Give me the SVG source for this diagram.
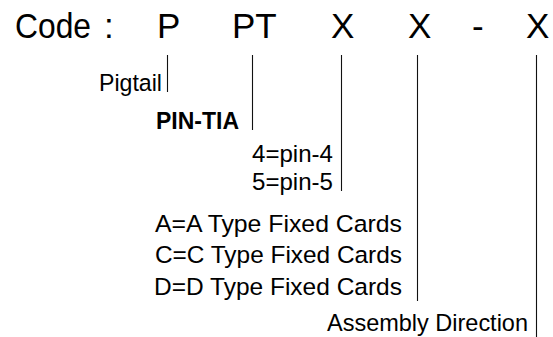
<svg xmlns="http://www.w3.org/2000/svg" width="553" height="337" viewBox="0 0 553 337">
<style>
.code{font-family:"Liberation Sans",Arial,sans-serif;font-size:35px;fill:#000}
.lbl{font-family:"Liberation Sans",Arial,sans-serif;font-size:24.5px;fill:#000}
.b{font-weight:bold}
.conn{stroke:#111;stroke-width:1.1;fill:none}
</style>
<rect width="553" height="337" fill="#fff"/>
<g id="code">
<text class="code" x="15" y="38" textLength="76" lengthAdjust="spacingAndGlyphs">Code</text>
<text class="code" x="104" y="38">:</text>
<text class="code" x="157" y="38">P</text>
<text class="code" x="232" y="38">PT</text>
<text class="code" x="331" y="38">X</text>
<text class="code" x="408" y="38">X</text>
<text class="code" x="472" y="38">-</text>
<text class="code" x="526" y="38">X</text>
</g>
<g id="connectors">
<line class="conn" x1="167.5" y1="55" x2="167.5" y2="92"/>
<line class="conn" x1="252.5" y1="55" x2="252.5" y2="130"/>
<line class="conn" x1="341.5" y1="55" x2="341.5" y2="191"/>
<line class="conn" x1="417.5" y1="55" x2="417.5" y2="301"/>
<line class="conn" x1="536.5" y1="55" x2="536.5" y2="337"/>
</g>
<g id="pigtail"><text class="lbl" x="99" y="91" textLength="63" lengthAdjust="spacingAndGlyphs">Pigtail</text></g>
<g id="pintia"><text class="lbl b" x="156" y="129" textLength="83" lengthAdjust="spacingAndGlyphs">PIN-TIA</text></g>
<g id="pin4"><text class="lbl" x="252" y="162" textLength="81" lengthAdjust="spacingAndGlyphs">4=pin-4</text></g>
<g id="pin5"><text class="lbl" x="252" y="190" textLength="81" lengthAdjust="spacingAndGlyphs">5=pin-5</text></g>
<g id="typeA"><text class="lbl" x="155" y="232" textLength="247" lengthAdjust="spacingAndGlyphs">A=A Type Fixed Cards</text></g>
<g id="typeC"><text class="lbl" x="155" y="263" textLength="247" lengthAdjust="spacingAndGlyphs">C=C Type Fixed Cards</text></g>
<g id="typeD"><text class="lbl" x="154" y="295" textLength="248" lengthAdjust="spacingAndGlyphs">D=D Type Fixed Cards</text></g>
<g id="assembly"><text class="lbl" x="327" y="331" textLength="201" lengthAdjust="spacingAndGlyphs">Assembly Direction</text></g>
</svg>
